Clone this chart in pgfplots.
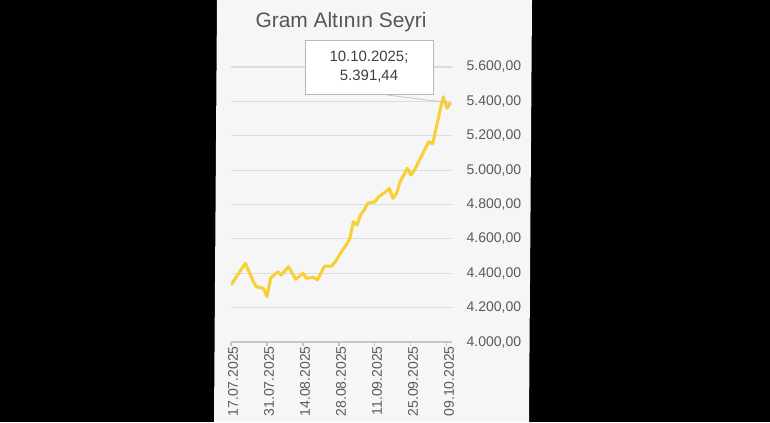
\documentclass[border=0pt]{standalone}
\usepackage{pgfplots}
\pgfplotsset{compat=1.18}
\usepackage{pgfplotstable}
\usepackage{fontspec}
\setmainfont{Liberation Sans}

\definecolor{gold}{RGB}{246,208,52}
\definecolor{panel}{RGB}{246,246,247}
\definecolor{gridc}{RGB}{220,220,220}
\definecolor{tickc}{RGB}{90,90,90}
\definecolor{titlec}{RGB}{85,85,85}

% business-day index (0 = 17.07.2025) and gram gold price (TL)
\pgfplotstableread{
idx value
0 4332
4 4458
6 4361
7 4322
9 4312
10 4264
11 4371
13 4409
14 4390
16 4438
17 4400
18 4365
20 4400
21 4371
23 4376
24 4361
26 4442
28 4442
29 4467
31 4535
32 4564
33 4600
34 4700
35 4680
36 4740
37 4768
38 4807
40 4816
41 4845
43 4874
44 4894
45 4836
46 4865
47 4933
49 5011
50 4972
51 5001
54 5127
55 5165
56 5152
57 5243
58 5340
59 5427
60 5360
61 5391.44
}\goldtable

\begin{document}
\begin{tikzpicture}
% 1 px of the reference = 0.75pt, origin at top-left
\begin{scope}[x=0.75pt,y=-0.75pt]
\useasboundingbox (0,0) rectangle (770,422);
\fill[black] (0,0) rectangle (770,422);
\fill[panel] (217,0) -- (532,0) -- (529,422) -- (214,422) -- cycle;
\node[titlec, font=\fontsize{15.7}{18}\selectfont, anchor=base] at (341,27) {Gram Altının Seyri};
\end{scope}

\begin{axis}[
    at={(173.25pt,-256.5pt)}, anchor=south west,
    scale only axis,
    width=166pt, height=206.25pt,
    xmin=0, xmax=61.5,
    ymin=4000, ymax=5600,
    axis x line*=bottom,
    axis y line*=right,
    x axis line style={draw=gridc!90!black, line width=0.8pt, -},
    y axis line style={draw=none},
    ytick={4000,4200,...,5600},
    ymajorgrids,
    grid style={gridc, line width=0.8pt},
    xtick={0,10,20,30,40,50,60},
    xticklabels={17.07.2025,31.07.2025,14.08.2025,28.08.2025,11.09.2025,25.09.2025,09.10.2025},
    xtick align=outside,
    major tick length=3pt,
    x tick style={gridc!90!black, line width=0.8pt},
    y tick style={draw=none},
    tick label style={tickc, font=\fontsize{10.5}{12}\selectfont},
    x tick label style={rotate=90, anchor=east, inner sep=0pt, yshift=-1.5pt},
    y tick label style={anchor=west, inner sep=0pt, xshift=10.5pt},
    /pgf/number format/.cd, fixed, fixed zerofill, precision=2, use comma, 1000 sep={.},
    assume math mode=true,
]
\addplot[gold, line width=2.3pt, line join=round] table[x=idx, y=value] {\goldtable};
\coordinate (last) at (axis cs:61,5391.44);
\end{axis}

\begin{scope}[x=0.75pt,y=-0.75pt]
\draw[gray!45, line width=0.6pt] (387,95) -- (last);
\node[draw=gray!55, fill=white, line width=0.6pt, minimum width=96pt, minimum height=40.5pt,
      align=center, text=black!75, font=\fontsize{11.2}{14}\selectfont] at (369,67)
      {10.10.2025;\\5.391,44};
\end{scope}
\end{tikzpicture}
\end{document}
